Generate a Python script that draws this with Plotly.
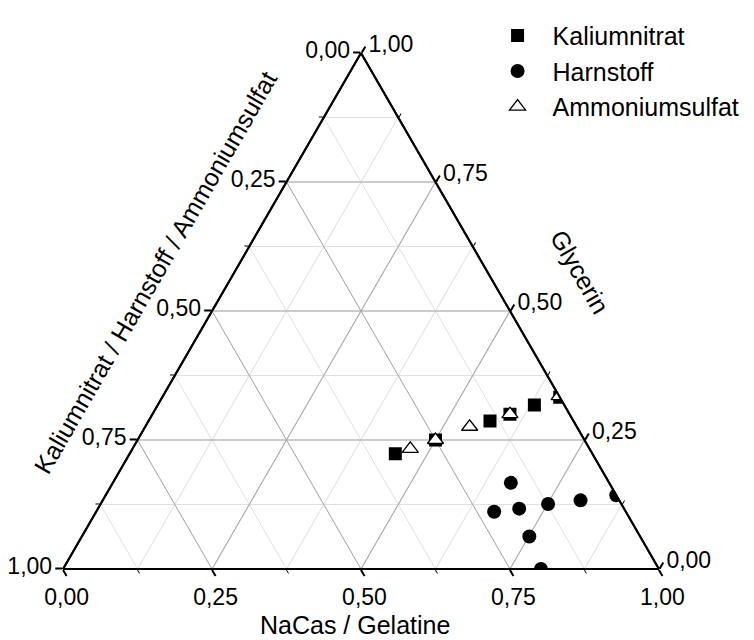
import plotly.graph_objects as go

# Kaliumnitrat (squares)
kn_salt = [0.33, 0.25, 0.14, 0.10, 0.05, 0.00]
kn_nacas = [0.445, 0.50, 0.573, 0.60, 0.632, 0.667]
kn_glyc = [0.223, 0.25, 0.287, 0.30, 0.318, 0.333]

# Harnstoff (circles)
hs_salt = [0.165, 0.221, 0.176, 0.123, 0.065, 0.0, 0.186, 0.198]
hs_nacas = [0.668, 0.668, 0.707, 0.751, 0.802, 0.857, 0.751, 0.802]
hs_glyc = [0.167, 0.111, 0.117, 0.126, 0.133, 0.143, 0.063, 0.0]

# Ammoniumsulfat (open triangles)
as_salt = [0.30, 0.25, 0.18, 0.10, 0.00]
as_nacas = [0.465, 0.50, 0.545, 0.60, 0.665]
as_glyc = [0.232, 0.25, 0.276, 0.30, 0.335]

major_vals = [0, 0.25, 0.5, 0.75, 1.0]
major_text = ["1,00", "0,75", "0,50", "0,25", "0,00"]
minor_vals = [0, 0.125, 0.25, 0.375, 0.5, 0.625, 0.75, 0.875, 1.0]

FONT = "Liberation Sans, Arial, sans-serif"

fig = go.Figure()
# empty trace so that the minor-grid ternary is rendered
fig.add_trace(go.Scatterternary(a=[], b=[], c=[], mode="markers", subplot="ternary",
                                showlegend=False, hoverinfo="skip"))
fig.add_trace(go.Scatterternary(a=kn_glyc, b=kn_salt, c=kn_nacas, mode="markers",
                                name="Kaliumnitrat", subplot="ternary2",
                                marker=dict(symbol="square", size=13, color="black")))
fig.add_trace(go.Scatterternary(a=hs_glyc, b=hs_salt, c=hs_nacas, mode="markers",
                                name="Harnstoff", subplot="ternary2",
                                marker=dict(symbol="circle", size=14, color="black")))
fig.add_trace(go.Scatterternary(a=as_glyc, b=as_salt, c=as_nacas, mode="markers",
                                name="Ammoniumsulfat", subplot="ternary2",
                                marker=dict(symbol="triangle-up", size=14, color="white",
                                            line=dict(color="black", width=1.3))))

dom = dict(x=[63 / 754, 659 / 754], y=[(640 - 569) / 640, (640 - 53) / 640])


def minor_axis():
    return dict(tickmode="array", tickvals=minor_vals, showticklabels=False,
                ticks="outside", ticklen=4, tickcolor="black",
                showgrid=True, gridcolor="#e0e0e0", gridwidth=1,
                linecolor="black", linewidth=2, title=dict(text=""))


def major_axis():
    return dict(tickmode="array", tickvals=major_vals, ticktext=major_text,
                showticklabels=True, tickfont=dict(size=23, color="black", family=FONT),
                ticks="outside", ticklen=7, tickcolor="black", tickwidth=1.5,
                showgrid=True, gridcolor="#a8a8a8", gridwidth=1,
                linecolor="black", linewidth=2, title=dict(text=""))


fig.update_layout(
    width=754, height=640,
    margin=dict(l=0, r=0, t=0, b=0),
    paper_bgcolor="white",
    font=dict(family=FONT, color="black"),
    ternary=dict(domain=dom, sum=1, bgcolor="white",
                 aaxis=minor_axis(), baxis=minor_axis(), caxis=minor_axis()),
    ternary2=dict(domain=dom, sum=1, bgcolor="rgba(0,0,0,0)",
                  aaxis=major_axis(), baxis=major_axis(), caxis=major_axis()),
    legend=dict(x=0.64, y=0.98, xanchor="left", yanchor="top",
                font=dict(size=25, family=FONT, color="black"),
                itemwidth=60, bgcolor="rgba(0,0,0,0)", tracegroupgap=0),
    annotations=[
        dict(text="NaCas / Gelatine", x=355 / 754, y=1 - 625 / 640, xref="paper", yref="paper",
             xanchor="center", yanchor="middle",
             showarrow=False, font=dict(size=25, family=FONT, color="black")),
        dict(text="Kaliumnitrat / Harnstoff / Ammoniumsulfat", x=155 / 754, y=1 - 273 / 640,
             xref="paper", yref="paper", xanchor="center", yanchor="middle",
             showarrow=False, textangle=-60,
             font=dict(size=25, family=FONT, color="black")),
        dict(text="Glycerin", x=580 / 754, y=1 - 272 / 640, xref="paper", yref="paper",
             xanchor="center", yanchor="middle",
             showarrow=False, textangle=60, font=dict(size=25, family=FONT, color="black")),
    ],
)

fig.write_html("out.html")
